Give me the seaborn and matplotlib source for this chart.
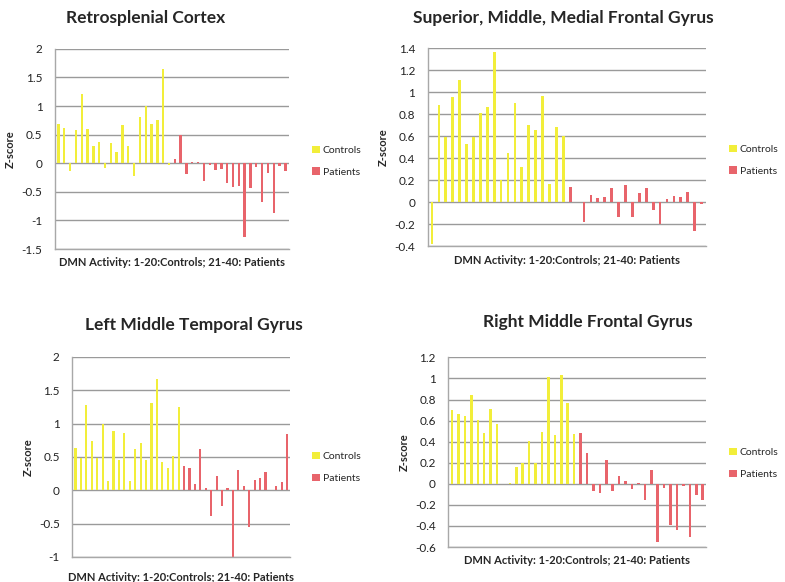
import numpy as np
import pandas as pd
import seaborn as sns
import matplotlib.pyplot as plt
from matplotlib.ticker import FuncFormatter

# z-scores per subject: 1-20 controls, 21-40 patients
retro_controls = [0.69, 0.62, -0.13, 0.59, 1.21, 0.60, 0.31, 0.37, -0.08, 0.36,
                  0.20, 0.67, 0.30, -0.23, 0.81, 1.01, 0.69, 0.76, 1.64, -0.03]
retro_patients = [0.08, 0.49, -0.19, 0.02, 0.03, -0.31, -0.03, -0.12, -0.10, -0.35,
                  -0.41, -0.40, -1.28, -0.43, -0.06, -0.67, -0.17, -0.87, -0.05, -0.13]

sfg_controls = [-0.38, 0.88, 0.59, 0.96, 1.11, 0.53, 0.59, 0.81, 0.87, 1.37,
                0.20, 0.45, 0.90, 0.32, 0.70, 0.66, 0.97, 0.17, 0.68, 0.60]
sfg_patients = [0.14, 0.0, -0.18, 0.07, 0.04, 0.05, 0.13, -0.13, 0.16, -0.13,
                0.08, 0.13, -0.07, -0.20, 0.03, 0.06, 0.05, 0.09, -0.26, -0.02]

mtg_controls = [0.64, 0.49, 1.27, 0.74, 0.48, 0.99, 0.14, 0.89, 0.45, 0.86,
                0.14, 0.62, 0.71, 0.45, 1.30, 1.67, 0.43, 0.34, 0.52, 1.24]
mtg_patients = [0.37, 0.34, 0.09, 0.62, 0.04, -0.38, 0.22, -0.24, 0.03, -1.00,
                0.31, 0.07, -0.55, 0.16, 0.18, 0.27, 0.0, 0.07, 0.13, 0.85]

mfg_controls = [0.70, 0.66, 0.64, 0.84, 0.61, 0.48, 0.71, 0.57, 0.0, 0.01,
                0.16, 0.20, 0.41, 0.20, 0.49, 1.01, 0.46, 1.03, 0.77, 0.47]
mfg_patients = [0.48, 0.29, -0.07, -0.09, 0.23, -0.07, 0.07, 0.03, -0.05, 0.01,
                -0.15, 0.13, -0.55, -0.04, -0.39, -0.44, -0.02, -0.50, -0.11, -0.15]

groups = ['Controls', 'Patients']
colors = {'Controls': '#F2EE3A', 'Patients': '#E8646B'}
xlabel = 'DMN Activity: 1-20:Controls; 21-40: Patients'

sns.set_style('white')
plt.rcParams['font.family'] = ['Lato', 'DejaVu Sans']

fig = plt.figure(figsize=(7.85, 5.82), dpi=100)
fig.patch.set_facecolor('white')

# title, controls, patients, ylim, step, axes rect, title pos (px), legend anchor, xlabel pad
panels = [
    ('Retrosplenial Cortex', retro_controls, retro_patients, (-1.5, 2.0), 0.5,
     [0.070, 0.572, 0.298, 0.344], (146, 18), (0.398, 0.723), 6),
    ('Superior, Middle, Medial Frontal Gyrus', sfg_controls, sfg_patients, (-0.4, 1.4), 0.2,
     [0.545, 0.577, 0.354, 0.340], (563, 18), (0.929, 0.725), 6),
    ('Left Middle Temporal Gyrus', mtg_controls, mtg_patients, (-1.0, 2.0), 0.5,
     [0.092, 0.043, 0.278, 0.344], (194, 325), (0.398, 0.197), 11),
    ('Right Middle Frontal Gyrus', mfg_controls, mfg_patients, (-0.6, 1.2), 0.2,
     [0.571, 0.060, 0.329, 0.326], (588, 322), (0.929, 0.204), 6),
]

fmt = FuncFormatter(lambda v, p: f'{round(v, 1) + 0:g}')

for title, ctrl, pat, ylim, step, rect, tpos, lpos, xpad in panels:
    ax = fig.add_axes(rect)
    df = pd.DataFrame({
        'subject': list(range(1, 41)),
        'z': ctrl + pat,
        'group': ['Controls'] * 20 + ['Patients'] * 20,
    })
    sns.barplot(data=df, x='subject', y='z', hue='group', palette=colors,
                hue_order=groups, dodge=False, width=0.4, ax=ax, linewidth=0,
                saturation=1)
    ax.set_ylim(*ylim)
    ax.set_yticks(np.arange(ylim[0], ylim[1] + step / 2, step))
    ax.yaxis.set_major_formatter(fmt)
    ax.set_xticks([])
    ax.set_xlim(-0.6, 39.6)
    ax.grid(axis='y', color='#9A9A9A', linewidth=1.0)
    ax.set_axisbelow(True)
    for s in ['top', 'right']:
        ax.spines[s].set_visible(False)
    for s in ['left', 'bottom']:
        ax.spines[s].set_color('#A8A8A8')
        ax.spines[s].set_linewidth(1.0)
    ax.tick_params(axis='y', labelsize=8.5, colors='#222222', length=3,
                   color='#A8A8A8', pad=6)
    ax.set_xlabel(xlabel, fontsize=8, fontweight='bold', labelpad=xpad)
    ax.set_ylabel('Z-score', fontsize=8, fontweight='bold', labelpad=4)
    fig.text(tpos[0] / 785, 1 - tpos[1] / 582, title, ha='center', va='center',
             fontsize=12.5, fontweight='bold')
    ax.legend(loc='center left', bbox_to_anchor=lpos, bbox_transform=fig.transFigure,
              frameon=False, fontsize=7.5, handlelength=0.7, handleheight=0.7,
              handletextpad=0.3, labelspacing=1.2, borderaxespad=0, borderpad=0)

plt.savefig('out.png', dpi=100)
